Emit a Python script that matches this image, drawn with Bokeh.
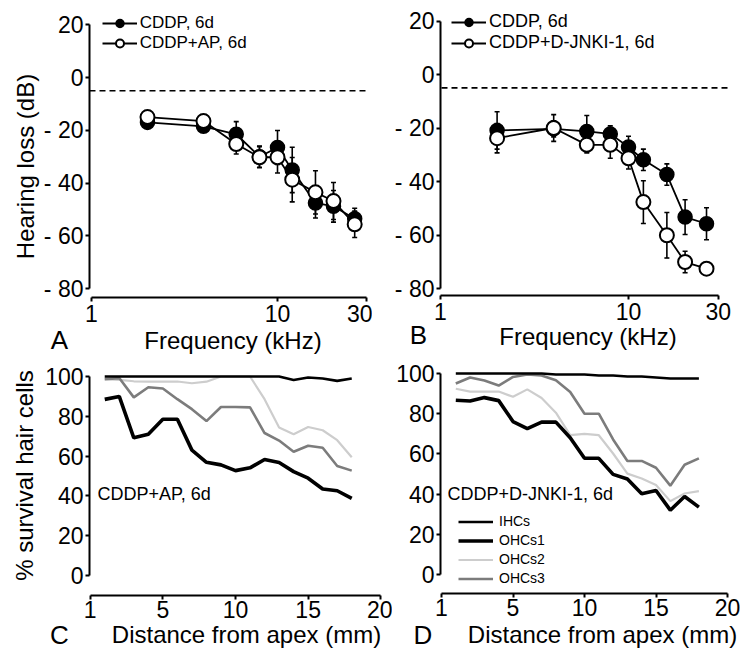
import math
from bokeh.plotting import figure
from bokeh.layouts import column, row
from bokeh.models import (ColumnDataSource, Whisker, TeeHead, Label, Legend,
                          LegendItem, FixedTicker, Range1d)
from bokeh.embed import file_html
from bokeh.resources import INLINE

FONT = "Liberation Sans"

# ---------------- data ----------------
freq_khz = [2, 4, 6, 8, 10, 12, 16, 20, 26]

a_cddp = [-17.0, -18.5, -21.5, -30.0, -26.5, -35.0, -47.5, -48.8, -53.5]
a_cddp_err = [1.5, 2.0, 4.8, 4.0, 6.4, 8.6, 5.7, 6.0, 4.0]
a_ap = [-15.0, -16.5, -25.2, -30.2, -30.2, -38.7, -43.5, -46.8, -55.6]
a_ap_err = [1.5, 2.0, 3.8, 4.0, 6.0, 8.4, 8.2, 7.0, 5.0]

b_cddp = [-20.9, -20.3, -21.3, -22.2, -27.1, -31.9, -37.4, -53.3, -55.8]
b_cddp_err = [7.0, 3.0, 6.0, 3.0, 4.0, 4.0, 4.0, 6.5, 6.0]
b_jnki = [-23.8, -20.0, -26.3, -26.3, -31.3, -47.7, -60.1, -70.1, -72.6]
b_jnki_err = [5.5, 5.0, 3.0, 5.0, 4.0, 8.0, 8.5, 4.0, 1.0]

threshold_db = -5

distance_mm = list(range(1, 19))

c_ihc = [100, 100, 100, 100, 100, 100, 100, 100, 100, 100, 100, 100, 100, 98.2, 99.5, 99.0, 97.8, 99.0]
c_ohc1 = [88.5, 90.0, 69.2, 71.0, 78.5, 78.5, 63.0, 56.9, 55.6, 52.7, 54.1, 58.3, 56.8, 52.2, 48.9, 43.5, 42.6, 38.8]
c_ohc2 = [98.7, 98.3, 97.6, 97.4, 97.4, 97.5, 96.6, 97.4, 100, 100, 100, 88.6, 74.4, 71.0, 74.6, 73.0, 68.0, 59.4]
c_ohc3 = [98.7, 99.2, 89.5, 94.6, 94.0, 88.6, 83.6, 77.6, 84.7, 84.7, 84.5, 71.6, 67.8, 62.2, 65.2, 64.2, 55.0, 52.7]

d_ihc = [100, 100, 100, 100, 100, 100, 100, 99.5, 99.5, 99.5, 99.0, 99.0, 98.5, 98.5, 98.0, 97.5, 97.5, 97.5]
d_ohc1 = [86.7, 86.3, 88.0, 86.5, 76.1, 72.6, 75.8, 75.8, 68.0, 57.8, 57.8, 49.8, 47.5, 40.2, 41.8, 32.0, 38.8, 33.5]
d_ohc2 = [92.4, 91.0, 91.0, 91.0, 88.4, 92.1, 87.8, 80.5, 69.3, 70.0, 69.3, 60.2, 50.2, 47.8, 44.5, 36.5, 40.3, 41.5]
d_ohc3 = [95.0, 98.0, 96.5, 94.0, 98.3, 99.5, 99.0, 96.6, 90.8, 80.0, 80.0, 67.2, 56.5, 56.5, 53.1, 44.2, 54.6, 57.8]

top_y_ticks = [-80, -60, -40, -20, 0, 20]
top_y_labels = ["- 80", "- 60", "- 40", "- 20", "0", "20"]
top_x_ticks = [1, 10, 30]
top_x_labels = ["1", "10", "30"]
bot_y_ticks = [0, 20, 40, 60, 80, 100]
bot_y_labels = ["0", "20", "40", "60", "80", "100"]
bot_x_ticks = [0, 5, 10, 15, 20]
bot_x_labels = ["1", "5", "10", "15", "20"]

TICK_FS = "23px"
LABEL_FS = "24px"
LETTER_FS = "26px"


class Geo:
    """Pixel layout of one panel (page pixel = xa + xb*x, ya - yb*y)."""

    def __init__(self, x0, y0, w, h, xa, xb, ya, yb, log=False):
        self.x0, self.y0, self.w, self.h = x0, y0, w, h
        self.xa, self.xb, self.ya, self.yb, self.log = xa, xb, ya, yb, log

    def xd(self, s):
        t = (s - self.xa) / self.xb
        return 10 ** t if self.log else t

    def yd(self, s):
        return (self.ya - s) / self.yb

    def figure(self):
        p = figure(width=self.w, height=self.h,
                   x_axis_type="log" if self.log else "linear",
                   x_range=Range1d(self.xd(self.x0), self.xd(self.x0 + self.w)),
                   y_range=Range1d(self.yd(self.y0 + self.h), self.yd(self.y0)),
                   output_backend="svg", toolbar_location=None,
                   min_border=0, min_border_left=0, min_border_right=0,
                   min_border_top=0, min_border_bottom=0)
        p.outline_line_color = None
        p.xgrid.grid_line_color = None
        p.ygrid.grid_line_color = None
        p.background_fill_color = "white"
        p.border_fill_color = "white"
        return p

    def legend_loc(self, sx, sy_bottom):
        return (sx - self.x0, self.y0 + self.h - sy_bottom)


def style_axes(p, g, xticks, xlabels, yticks, ylabels, xbounds, ybounds,
               xaxis_px, yaxis_px, xstand):
    for ax, ticks, labels, bounds in ((p.xaxis[0], xticks, xlabels, xbounds),
                                      (p.yaxis[0], yticks, ylabels, ybounds)):
        ax.ticker = FixedTicker(ticks=ticks, minor_ticks=[])
        ax.major_label_overrides = {t: l for t, l in zip(ticks, labels)}
        ax.bounds = bounds
        ax.axis_line_width = 2
        ax.axis_line_color = "black"
        ax.major_tick_line_width = 2
        ax.major_tick_line_color = "black"
        ax.major_tick_out = 4
        ax.major_tick_in = 0
        ax.minor_tick_line_color = None
        ax.major_label_text_font = FONT
        ax.major_label_text_font_size = TICK_FS
        ax.major_label_text_color = "black"
    p.xaxis[0].fixed_location = g.yd(xaxis_px)
    p.yaxis[0].fixed_location = g.xd(yaxis_px)
    p.yaxis[0].major_label_standoff = 2
    p.xaxis[0].major_label_standoff = xstand


def add_label(p, g, sx, sy, text, size, angle=0.0, align="center"):
    p.add_layout(Label(x=g.xd(sx), y=g.yd(sy), text=text, text_font=FONT,
                       text_font_size=size, text_color="black", angle=angle,
                       text_align=align, text_baseline="middle"))


def top_panel(g, s1, e1, s2, e2, name2, letter, letter_xy, xlab_xy, ylabel_xy,
              xaxis_px, yaxis_px, dash_px, legend_x, legend_fs):
    p = g.figure()
    style_axes(p, g, top_x_ticks, top_x_labels, top_y_ticks, top_y_labels,
               (1, 30), (-80, 20), xaxis_px, yaxis_px, 3)
    p.line([g.xd(dash_px[0]), g.xd(dash_px[1])], [threshold_db, threshold_db],
           line_color="black", line_width=1.6, line_dash="6 4")
    src1 = ColumnDataSource(dict(x=freq_khz, y=s1,
                                 lo=[v - e for v, e in zip(s1, e1)],
                                 hi=[v + e for v, e in zip(s1, e1)]))
    src2 = ColumnDataSource(dict(x=freq_khz, y=s2,
                                 lo=[v - e for v, e in zip(s2, e2)],
                                 hi=[v + e for v, e in zip(s2, e2)]))
    for src in (src1, src2):
        p.add_layout(Whisker(source=src, base="x", lower="lo", upper="hi",
                             line_color="black", line_width=1.6, level="underlay",
                             upper_head=TeeHead(size=5, line_width=1.6),
                             lower_head=TeeHead(size=5, line_width=1.6)))
    l1 = p.line("x", "y", source=src1, line_color="black", line_width=1.8)
    m1 = p.scatter("x", "y", source=src1, marker="circle", size=14,
                   fill_color="black", line_color="black", line_width=1.5)
    l2 = p.line("x", "y", source=src2, line_color="black", line_width=1.8)
    m2 = p.scatter("x", "y", source=src2, marker="circle", size=14,
                   fill_color="white", line_color="black", line_width=2)
    p.add_layout(Legend(items=[LegendItem(label="CDDP, 6d", renderers=[l1, m1]),
                               LegendItem(label=name2, renderers=[l2, m2])],
                        location=g.legend_loc(legend_x, 53.3), padding=0, margin=0,
                        spacing=0, glyph_width=35, glyph_height=20, label_height=20,
                        label_standoff=3, border_line_color=None,
                        background_fill_alpha=0, label_text_font=FONT,
                        label_text_font_size=legend_fs, label_text_color="black"))
    if ylabel_xy is not None:
        add_label(p, g, ylabel_xy[0], ylabel_xy[1], "Hearing loss (dB)", LABEL_FS,
                  angle=math.pi / 2)
    add_label(p, g, xlab_xy[0], xlab_xy[1], "Frequency (kHz)", LABEL_FS)
    add_label(p, g, letter_xy[0], letter_xy[1], letter, LETTER_FS)
    return p


def bottom_panel(g, ihc, o1, o2, o3, note, note_xy, letter, letter_xy, dist_xy,
                 ylabel_xy, legend_xy, xaxis_px, yaxis_px):
    p = g.figure()
    style_axes(p, g, bot_x_ticks, bot_x_labels, bot_y_ticks, bot_y_labels,
               (0, 20), (0, 100), xaxis_px, yaxis_px, 1)
    r2 = p.line(distance_mm, o2, line_color="#cdcdcd", line_width=2.2)
    r3 = p.line(distance_mm, o3, line_color="#7c7c7c", line_width=2.6)
    r1 = p.line(distance_mm, o1, line_color="black", line_width=3.6)
    r0 = p.line(distance_mm, ihc, line_color="black", line_width=2.6)
    if legend_xy is not None:
        p.add_layout(Legend(items=[LegendItem(label="IHCs", renderers=[r0]),
                                   LegendItem(label="OHCs1", renderers=[r1]),
                                   LegendItem(label="OHCs2", renderers=[r2]),
                                   LegendItem(label="OHCs3", renderers=[r3])],
                            location=g.legend_loc(*legend_xy), padding=0, margin=0,
                            spacing=0, glyph_width=35, glyph_height=19,
                            label_height=19, label_standoff=6,
                            border_line_color=None, background_fill_alpha=0,
                            label_text_font=FONT, label_text_font_size="14px",
                            label_text_color="black"))
    add_label(p, g, note_xy[0], note_xy[1], note, "18px", align="left")
    if ylabel_xy is not None:
        add_label(p, g, ylabel_xy[0], ylabel_xy[1], "% survival hair cells",
                  LABEL_FS, angle=math.pi / 2)
    add_label(p, g, letter_xy[0], letter_xy[1], letter, LETTER_FS)
    add_label(p, g, dist_xy[0], dist_xy[1], "Distance from apex (mm)", LABEL_FS)
    return p


gA = Geo(0, 0, 372, 355, 91, 186, 77, 2.64, log=True)
gB = Geo(372, 0, 368, 355, 440, 188, 74, 2.675, log=True)
gC = Geo(0, 355, 392, 295, 89.7, 14.53, 575, 1.99)
gD = Geo(392, 355, 348, 295, 441, 14.3, 574, 2.01)

pA = top_panel(gA, a_cddp, a_cddp_err, a_ap, a_ap_err, "CDDP+AP, 6d",
               "A", (59, 339), (232.5, 340), (25, 166), 297, 89, (89, 368), 101.7, "17px")
pB = top_panel(gB, b_cddp, b_cddp_err, b_jnki, b_jnki_err, "CDDP+D-JNKI-1, 6d",
               "B", (418, 334), (587.5, 336), None, 295, 440, (441, 728), 451, "18px")
pC = bottom_panel(gC, c_ihc, c_ohc1, c_ohc2, c_ohc3, "CDDP+AP, 6d", (97, 493),
                  "C", (59, 634), (246, 634), (24, 475), None, 595, 89)
pD = bottom_panel(gD, d_ihc, d_ohc1, d_ohc2, d_ohc3, "CDDP+D-JNKI-1, 6d", (447, 493),
                  "D", (422.5, 634), (602, 634), None, (458, 587.5), 593, 440)

layout = column(row(pA, pB), row(pC, pD))

open("out.html", "w").write(file_html(layout, INLINE))
